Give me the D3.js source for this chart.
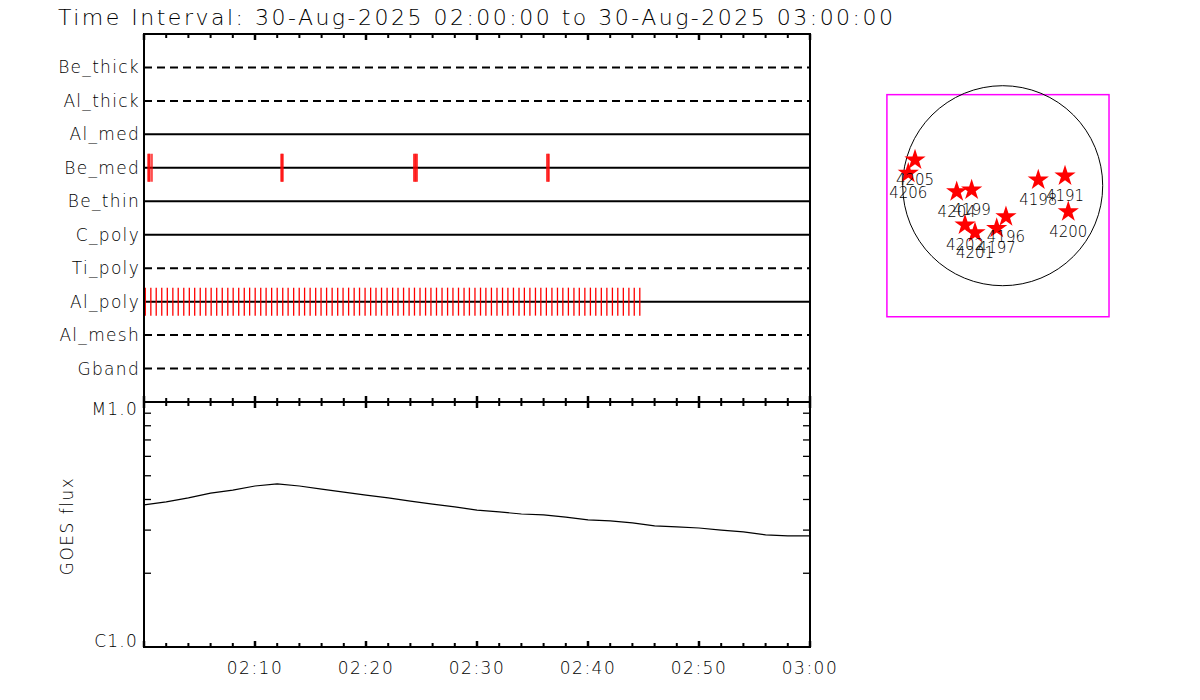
<!DOCTYPE html>
<html>
<head>
<meta charset="utf-8">
<script src="https://cdn.jsdelivr.net/npm/d3@7"></script>
<style>
  body { margin: 0; background: #fff; }
  svg { display: block; font-family: "DejaVu Sans", sans-serif; font-weight: 200; }
</style>
</head>
<body>
<svg id="chart" width="1200" height="700"></svg>
<script>
// ---- data ----
const titleText = "Time Interval: 30-Aug-2025 02:00:00 to 30-Aug-2025 03:00:00";
const startTime = new Date("2025-08-30T02:00:00Z");
const endTime = new Date("2025-08-30T03:00:00Z");

const filters = ["Be_thick", "Al_thick", "Al_med", "Be_med", "Be_thin", "C_poly", "Ti_poly", "Al_poly", "Al_mesh", "Gband"];
const dashedFilters = ["Be_thick", "Al_thick", "Ti_poly", "Al_mesh", "Gband"];

// exposure times, seconds after 02:00:00
const beMedSeconds = [22, 27, 32, 43, 741, 746, 751, 1459, 1465, 1470, 1476, 2178, 2184, 2189];
const alPolySeconds = [
  7, 37, 66, 96, 126, 156, 185, 215, 245, 274, 304, 334, 363, 393, 423, 453, 482, 512, 542, 571,
  601, 631, 660, 690, 720, 750, 779, 809, 839, 868, 898, 928, 957, 987, 1017, 1047, 1076, 1106, 1136, 1165,
  1195, 1225, 1254, 1284, 1314, 1344, 1373, 1403, 1433, 1462, 1492, 1522, 1551, 1581, 1611, 1641, 1670, 1700, 1730, 1759,
  1789, 1819, 1848, 1878, 1908, 1938, 1967, 1997, 2027, 2056, 2086, 2116, 2145, 2175, 2205, 2235, 2264, 2294, 2324, 2353,
  2383, 2413, 2442, 2472, 2502, 2532, 2561, 2591, 2621, 2650, 2680
];

// GOES flux, minutes after 02:00 and W/m^2
const goesMinutes = [0, 2, 4, 6, 8, 10, 12, 14, 16, 18, 20, 22, 24, 26, 28, 30, 32, 34, 36, 38, 40, 42, 44, 46, 48, 50, 52, 54, 56, 58, 60];
const goesFlux = [3.80e-6, 3.91e-6, 4.06e-6, 4.25e-6, 4.37e-6, 4.54e-6, 4.63e-6, 4.54e-6, 4.41e-6, 4.29e-6, 4.17e-6,
  4.06e-6, 3.94e-6, 3.83e-6, 3.73e-6, 3.62e-6, 3.56e-6, 3.49e-6, 3.46e-6, 3.39e-6, 3.30e-6, 3.27e-6, 3.21e-6,
  3.12e-6, 3.09e-6, 3.06e-6, 3.00e-6, 2.95e-6, 2.87e-6, 2.84e-6, 2.84e-6];
const goesLabels = ["C1.0", "M1.0"];
const goesLabelValues = [1e-6, 1e-5];

// active regions, arcsec from disk centre
const regionNames = ["4205", "4206", "4204", "4199", "4202", "4201", "4196", "4197", "4198", "4191", "4200"];
const regionX = [-833, -897, -437, -295, -358, -263, 31, -57, 338, 592, 623];
const regionY = [244, 118, -57, -41, -373, -447, -295, -405, 54, 92, -247];
const sunRadius = 950;
const fovCenter = [-45, -190];
const fovSize = 2110;

// ---- layout ----
const svg = d3.select("#chart");
const plotLeft = 144, plotRight = 810, plotTop = 34, plotMid = 402, plotBottom = 647;

const x = d3.scaleUtc().domain([startTime, endTime]).range([plotLeft, plotRight]);
const secs = s => new Date(startTime.getTime() + s * 1000);
const rowY = d3.scalePoint().domain(filters).range([plotTop, plotMid]).padding(1);
const y = d3.scaleLog().domain([1e-6, 1e-5]).range([plotBottom, plotMid]);

// title
svg.append("text")
  .attr("x", 58).attr("y", 25)
  .attr("font-size", 22)
  .attr("textLength", 835).attr("lengthAdjust", "spacing")
  .text(titleText);

// ---- filter panel ----
const rows = svg.append("g");
rows.selectAll("line.row")
  .data(filters)
  .join("line")
  .attr("class", "row")
  .attr("x1", plotLeft).attr("x2", plotRight)
  .attr("y1", d => rowY(d)).attr("y2", d => rowY(d))
  .attr("stroke", "#000").attr("stroke-width", 2)
  .attr("stroke-dasharray", d => dashedFilters.includes(d) ? "8,5" : null);

rows.selectAll("text.label")
  .data(filters)
  .join("text")
  .attr("class", "label")
  .attr("x", 140).attr("y", d => rowY(d) + 6)
  .attr("text-anchor", "end")
  .attr("font-size", 17).attr("letter-spacing", 1.3)
  .text(d => d);

function exposureTicks(times, filter) {
  rows.append("g").selectAll("line")
    .data(times)
    .join("line")
    .attr("x1", d => x(secs(d))).attr("x2", d => x(secs(d)))
    .attr("y1", rowY(filter) - 14).attr("y2", rowY(filter) + 14)
    .attr("stroke", "#ff0000").attr("stroke-width", 1.3);
}
exposureTicks(beMedSeconds, "Be_med");
exposureTicks(alPolySeconds, "Al_poly");

// ---- GOES panel ----
const line = d3.line()
  .x((d, i) => x(secs(goesMinutes[i] * 60)))
  .y(d => y(d));
svg.append("path")
  .datum(goesFlux)
  .attr("fill", "none").attr("stroke", "#000").attr("stroke-width", 1.2)
  .attr("d", line);

// y ticks both sides
const yTicks = y.ticks();
svg.append("g").selectAll("line")
  .data(yTicks)
  .join("line")
  .attr("x1", plotLeft).attr("x2", plotLeft + 7)
  .attr("y1", d => y(d)).attr("y2", d => y(d))
  .attr("stroke", "#000").attr("stroke-width", 1.3);
svg.append("g").selectAll("line")
  .data(yTicks)
  .join("line")
  .attr("x1", plotRight - 7).attr("x2", plotRight)
  .attr("y1", d => y(d)).attr("y2", d => y(d))
  .attr("stroke", "#000").attr("stroke-width", 1.3);

svg.append("g").selectAll("text")
  .data(goesLabels)
  .join("text")
  .attr("x", 138)
  .attr("y", (d, i) => y(goesLabelValues[i]) + (i === 0 ? 0 : 13))
  .attr("text-anchor", "end")
  .attr("font-size", 17).attr("letter-spacing", 1.2)
  .text(d => d);

svg.append("text")
  .attr("transform", "translate(73,526) rotate(-90)")
  .attr("text-anchor", "middle")
  .attr("font-size", 17).attr("letter-spacing", 1.5)
  .text("GOES flux");

// time ticks on every horizontal axis
const minorTicks = x.ticks(d3.utcMinute.every(2));
function timeTicks(yPos, dir) {
  svg.append("g").selectAll("line")
    .data(minorTicks)
    .join("line")
    .attr("x1", d => x(d)).attr("x2", d => x(d))
    .attr("y1", yPos)
    .attr("y2", d => yPos + dir * (d.getUTCMinutes() % 10 === 0 ? 6 : 4))
    .attr("stroke", "#000")
    .attr("stroke-width", d => d.getUTCMinutes() % 10 === 0 ? 2.5 : 2);
}
timeTicks(plotTop, 1);
timeTicks(plotMid, -1);
timeTicks(plotMid, 1);
timeTicks(plotBottom, -1);

svg.append("g").selectAll("text")
  .data(x.ticks(d3.utcMinute.every(10)).slice(1))
  .join("text")
  .attr("x", d => x(d)).attr("y", 674)
  .attr("text-anchor", "middle")
  .attr("font-size", 17).attr("letter-spacing", 1.5)
  .text(d3.utcFormat("%H:%M"));

// frames
[[plotTop, plotMid], [plotMid, plotBottom]].forEach(([a, b]) => {
  svg.append("rect")
    .attr("x", plotLeft).attr("y", a)
    .attr("width", plotRight - plotLeft).attr("height", b - a)
    .attr("fill", "none").attr("stroke", "#000").attr("stroke-width", 2);
});

// ---- sun map ----
const sx = d3.scaleLinear().domain([-sunRadius, sunRadius]).range([902.7, 1102.7]);
const sy = d3.scaleLinear().domain([-sunRadius, sunRadius]).range([285.7, 85.7]);

svg.append("rect")
  .attr("x", sx(fovCenter[0] - fovSize / 2))
  .attr("y", sy(fovCenter[1] + fovSize / 2))
  .attr("width", sx(fovSize) - sx(0))
  .attr("height", sy(0) - sy(fovSize))
  .attr("fill", "none").attr("stroke", "#ff00ff").attr("stroke-width", 1.5);

svg.append("circle")
  .attr("cx", sx(0)).attr("cy", sy(0))
  .attr("r", sx(sunRadius) - sx(0))
  .attr("fill", "none").attr("stroke", "#000").attr("stroke-width", 1);

const star = d3.symbol(d3.symbolStar, 140);
svg.append("g").selectAll("path")
  .data(regionNames)
  .join("path")
  .attr("transform", (d, i) => `translate(${sx(regionX[i])},${sy(regionY[i])})`)
  .attr("d", star)
  .attr("fill", "#ff0000");

svg.append("g").selectAll("text")
  .data(regionNames)
  .join("text")
  .attr("x", (d, i) => sx(regionX[i]))
  .attr("y", (d, i) => sy(regionY[i]) + 25)
  .attr("text-anchor", "middle")
  .attr("font-size", 15)
  .text(d => d);
</script>
</body>
</html>
